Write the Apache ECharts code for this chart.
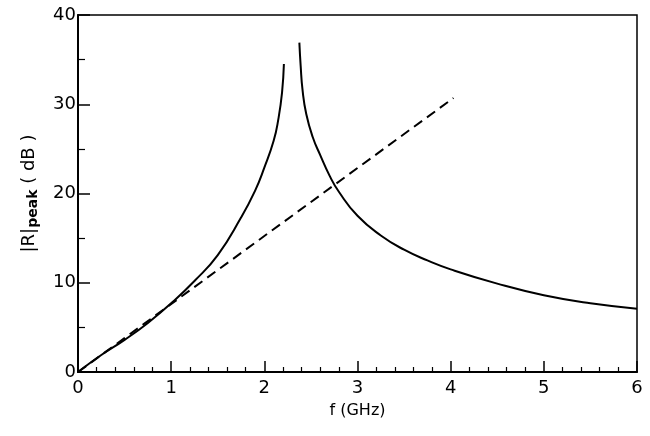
<!DOCTYPE html>
<html>
<head>
<meta charset="utf-8">
<script src="https://cdn.jsdelivr.net/npm/echarts@6/dist/echarts.min.js"></script>
<style>
  html, body { margin: 0; padding: 0; background: #fff; }
  #main { width: 650px; height: 436px; }
</style>
</head>
<body>
<div id="main"></div>
<script>
// branch below the resonance (GHz, dB)
var freqLow = [0, 0.25, 0.5, 0.75, 1.0, 1.25, 1.5, 1.75, 1.9, 2.0, 2.1, 2.15, 2.19, 2.21];
var rLow    = [0, 1.9, 3.6, 5.5, 7.7, 10.2, 13.1, 17.3, 20.3, 22.9, 25.9, 28.3, 31.3, 34.5];

// branch above the resonance
var freqHigh = [2.376, 2.39, 2.41, 2.45, 2.52, 2.6, 2.7, 2.8, 3.0, 3.25, 3.5, 3.75, 4.0, 4.5, 5.0, 5.5, 6.0];
var rHigh    = [36.9, 34.3, 31.6, 28.9, 26.3, 24.3, 22.0, 20.2, 17.5, 15.3, 13.7, 12.5, 11.5, 9.9, 8.6, 7.7, 7.1];

// dashed straight line
var freqLine = [0, 4.03];
var rLine    = [0, 30.7];

var xTicks = [0, 1, 2, 3, 4, 5, 6];
var yTicks = [0, 10, 20, 30, 40];

function zip(a, b) {
  var out = [];
  for (var i = 0; i < a.length; i++) out.push([a[i], b[i]]);
  return out;
}

var font = 'DejaVu Sans';
var chart = echarts.init(document.getElementById('main'));

var option = {
  animation: false,
  backgroundColor: '#fff',
  grid: {
    left: 78, right: 13, top: 15, bottom: 64,
    show: true, borderColor: '#000', borderWidth: 1.5
  },
  xAxis: {
    type: 'value',
    min: xTicks[0], max: xTicks[xTicks.length - 1], interval: 1,
    name: 'f (GHz)', nameLocation: 'middle', nameGap: 31,
    nameTextStyle: { color: '#000', fontFamily: font, fontSize: 16 },
    axisLine: { lineStyle: { color: '#000', width: 2 } },
    axisTick: { inside: true, length: 11, lineStyle: { color: '#000', width: 1.5 } },
    minorTick: { show: true, splitNumber: 5, length: 5, lineStyle: { color: '#000', width: 1.2 } },
    axisLabel: { color: '#000', fontFamily: font, fontSize: 18, margin: 7 },
    splitLine: { show: false }
  },
  yAxis: {
    type: 'value',
    min: yTicks[0], max: yTicks[yTicks.length - 1], interval: 10,
    name: '|R|{sub|peak} ( dB )', nameLocation: 'middle', nameGap: 38, nameRotate: 90,
    nameTextStyle: {
      color: '#000', fontFamily: font, fontSize: 18,
      rich: { sub: { fontFamily: font, fontSize: 14, fontWeight: 'bold', color: '#000', verticalAlign: 'bottom', padding: [8, 0, 0, 0] } }
    },
    axisLine: { lineStyle: { color: '#000', width: 2 } },
    axisTick: { inside: true, length: 12, lineStyle: { color: '#000', width: 1.5 } },
    minorTick: { show: true, splitNumber: 2, length: 7, lineStyle: { color: '#000', width: 1.2 } },
    axisLabel: { color: '#000', fontFamily: font, fontSize: 18, margin: 2 },
    splitLine: { show: false }
  },
  series: [
    {
      type: 'line', data: zip(freqLow, rLow), smooth: 0.5,
      showSymbol: false, lineStyle: { color: '#000', width: 2 }
    },
    {
      type: 'line', data: zip(freqHigh, rHigh), smooth: 0.5,
      showSymbol: false, lineStyle: { color: '#000', width: 2 }
    },
    {
      type: 'line', data: zip(freqLine, rLine),
      showSymbol: false, lineStyle: { color: '#000', width: 2, type: [10, 6] }
    }
  ]
};

chart.setOption(option);
</script>
</body>
</html>
